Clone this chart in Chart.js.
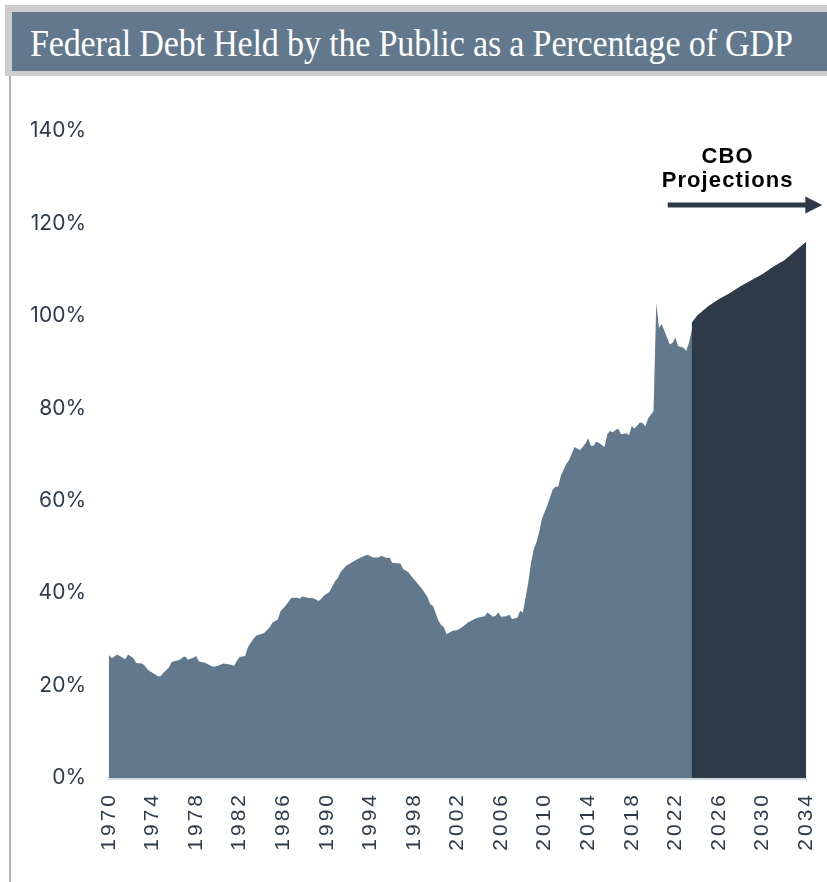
<!DOCTYPE html>
<html>
<head>
<meta charset="utf-8">
<script src="https://cdn.jsdelivr.net/npm/chart.js@4.4.1/dist/chart.umd.min.js"></script>
<style>
  html, body { margin: 0; padding: 0; background: #ffffff; }
  body { width: 827px; height: 882px; position: relative; overflow: hidden; }
  #frame { position: absolute; left: 5px; top: 5px; right: 0; height: 71px; background: #cdcdcd; }
  #banner { position: absolute; left: 12px; top: 12px; right: 0; height: 59px; background: #62788c; }
  #banner h1 {
    margin: 0; position: absolute; left: 18px; top: 11px;
    font-family: "Liberation Serif", "DejaVu Serif", serif; font-weight: normal;
    font-size: 38px; line-height: 40px; letter-spacing: -0.2px; color: #ffffff; white-space: nowrap;
    transform: scaleX(0.897); transform-origin: left top;
  }
  #rule { position: absolute; left: 9px; top: 76px; width: 2px; bottom: 0; background: #b8afa6; }
  #chart { position: absolute; left: 0; top: 0; }
</style>
</head>
<body>
<canvas id="chart" width="827" height="882"></canvas>
<div id="frame"></div>
<div id="banner"><h1>Federal Debt Held by the Public as a Percentage of GDP</h1></div>
<div id="rule"></div>
<script>
// Federal debt held by the public, % of GDP (quarterly history)
const histYears = [
  1970.0, 1970.25, 1970.75, 1971.25, 1971.5, 1971.75, 1972.25, 1972.5, 1973.0, 1973.25,
  1973.5, 1973.75, 1974.0, 1974.5, 1974.75, 1975.0, 1975.5, 1975.75, 1976.5, 1976.75,
  1977.0, 1977.25, 1977.75, 1978.0, 1978.25, 1978.75, 1979.5, 1979.75, 1980.0, 1980.5,
  1981.0, 1981.5, 1981.75, 1982.0, 1982.5, 1982.75, 1983.25, 1983.5, 1984.25, 1984.75,
  1985.0, 1985.5, 1985.75, 1986.25, 1986.75, 1987.25, 1987.5, 1987.75, 1988.25, 1988.75,
  1989.25, 1989.5, 1989.75, 1990.25, 1990.75, 1991.0, 1991.25, 1991.75, 1992.25, 1992.75,
  1993.25, 1993.75, 1994.25, 1994.75, 1995.0, 1995.5, 1995.75, 1996.0, 1996.75, 1997.0,
  1997.5, 1997.75, 1998.25, 1998.75, 1999.25, 1999.5, 1999.75, 2000.25, 2000.5, 2000.75,
  2001.0, 2001.5, 2002.0, 2002.5, 2003.0, 2003.75, 2004.25, 2004.5, 2004.75, 2005.25,
  2005.5, 2005.75, 2006.0, 2006.5, 2006.75, 2007.0, 2007.5, 2007.75, 2008.0, 2008.5,
  2008.75, 2009.0, 2009.25, 2009.5, 2009.75, 2010.25, 2010.75, 2011.0, 2011.25, 2011.5,
  2012.0, 2012.25, 2012.5, 2012.75, 2013.25, 2013.75, 2014.0, 2014.25, 2014.5, 2014.75,
  2015.0, 2015.5, 2015.75, 2016.0, 2016.25, 2016.75, 2017.0, 2017.5, 2017.75, 2018.0,
  2018.25, 2018.75, 2019.0, 2019.25, 2019.5, 2020.0, 2020.25, 2020.5, 2020.75, 2021.0,
  2021.5, 2021.75, 2022.0, 2022.25, 2022.75, 2023.0, 2023.25, 2023.5
];
const histValues = [
  26.6, 25.9, 26.7, 26.0, 25.7, 26.7, 25.9, 24.9, 24.8, 24.4,
  23.6, 23.1, 22.8, 22.0, 22.0, 22.8, 23.9, 25.1, 25.6, 26.1,
  26.3, 25.6, 26.0, 26.4, 25.2, 25.0, 24.1, 24.1, 24.3, 24.8,
  24.6, 24.3, 25.4, 26.2, 26.4, 28.3, 30.1, 30.8, 31.4, 32.6,
  33.6, 34.3, 36.1, 37.4, 39.0, 39.0, 38.8, 39.3, 39.0, 38.9,
  38.3, 38.8, 39.5, 40.3, 42.6, 43.2, 44.5, 45.9, 46.6, 47.3,
  47.9, 48.3, 47.7, 47.7, 48.1, 47.6, 47.7, 46.6, 46.4, 45.2,
  44.5, 43.7, 42.3, 40.9, 39.1, 37.6, 37.2, 34.0, 33.1, 32.6,
  31.1, 31.8, 32.0, 32.8, 33.7, 34.6, 34.9, 35.0, 35.8, 34.9,
  35.1, 35.8, 34.9, 35.0, 35.4, 34.4, 34.7, 36.2, 35.8, 42.3,
  46.5, 49.5, 51.0, 53.2, 56.1, 59.0, 62.5, 63.0, 63.0, 65.5,
  68.0, 68.8, 70.2, 71.6, 70.9, 72.4, 73.5, 71.9, 71.9, 72.8,
  72.5, 71.6, 74.4, 75.1, 74.8, 75.6, 74.4, 74.6, 74.2, 76.1,
  75.6, 76.9, 76.8, 76.1, 77.8, 79.4, 102.8, 97.4, 98.2, 96.7,
  93.8, 94.2, 95.3, 93.5, 93.1, 92.4, 94.2, 96.7
];

// CBO projections
const projYears  = [2023.5, 2024, 2025, 2026, 2027, 2028, 2029, 2030, 2031, 2032, 2033, 2034];
const projValues = [98.5, 100.0, 102.0, 103.6, 104.9, 106.4, 107.7, 109.0, 110.6, 112.0, 114.0, 116.0];

// Axis ranges and tick spacing
const yearMin = 1970, yearMax = 2034, yearStep = 4;
const pctMin = 0, pctMax = 140, pctStep = 20;

// Annotation text and where it sits (in data units)
const noteLines = ['CBO', 'Projections'];
const noteAt = { year: 2026.8, pct: [133.1, 127.9] };
const arrowAt = { fromYear: 2021.3, toYear: 2035.5, pct: 124 };

const HIST_COLOR = '#62788c';
const PROJ_COLOR = '#2e3a48';
const LABEL_COLOR = '#2f3b4a';
const X_LABEL_SPACING = 3;

// Linear scale whose tick labels are drawn with extra letter spacing
class SpacedLinearScale extends Chart.LinearScale {
  drawLabels(chartArea) {
    const ctx = this.ctx;
    ctx.save();
    ctx.letterSpacing = X_LABEL_SPACING + 'px';
    super.drawLabels(chartArea);
    ctx.restore();
  }
}
SpacedLinearScale.id = 'spacedLinear';
SpacedLinearScale.defaults = Chart.LinearScale.defaults;
Chart.register(SpacedLinearScale);

const toPoints = (xs, ys) => xs.map((x, i) => ({ x: x, y: ys[i] }));

// The history layer continues beneath the projection so the two fills meet without a seam
const histPoints = toPoints(histYears, histValues).concat(toPoints(projYears, projValues).slice(1));
const projPoints = toPoints(projYears, projValues);

const projectionNote = {
  id: 'projectionNote',
  afterDatasetsDraw(chart) {
    const ctx = chart.ctx;
    const xs = chart.scales.x, ys = chart.scales.y;
    ctx.save();
    ctx.fillStyle = '#000000';
    ctx.font = 'bold 22px "Liberation Sans", Arial, sans-serif';
    ctx.letterSpacing = '1.1px';
    ctx.textAlign = 'center';
    ctx.textBaseline = 'alphabetic';
    const cx = xs.getPixelForValue(noteAt.year);
    noteLines.forEach((t, i) => ctx.fillText(t, cx, ys.getPixelForValue(noteAt.pct[i])));

    const y = ys.getPixelForValue(arrowAt.pct);
    const x0 = xs.getPixelForValue(arrowAt.fromYear);
    const tip = xs.getPixelForValue(arrowAt.toYear);
    const headLen = 17, headHalf = 8.5;
    ctx.strokeStyle = PROJ_COLOR;
    ctx.fillStyle = PROJ_COLOR;
    ctx.lineWidth = 5;
    ctx.beginPath();
    ctx.moveTo(x0, y);
    ctx.lineTo(tip - headLen + 1, y);
    ctx.stroke();
    ctx.beginPath();
    ctx.moveTo(tip, y);
    ctx.lineTo(tip - headLen, y - headHalf);
    ctx.lineTo(tip - headLen, y + headHalf);
    ctx.closePath();
    ctx.fill();
    ctx.restore();
  }
};

new Chart(document.getElementById('chart'), {
  type: 'line',
  data: {
    datasets: [
      {
        label: 'CBO Projections',
        data: projPoints,
        fill: 'origin',
        backgroundColor: PROJ_COLOR,
        borderColor: PROJ_COLOR,
        borderWidth: 0,
        pointRadius: 0,
        tension: 0,
        order: 0
      },
      {
        label: 'Historical',
        data: histPoints,
        fill: 'origin',
        backgroundColor: HIST_COLOR,
        borderColor: HIST_COLOR,
        borderWidth: 0,
        pointRadius: 0,
        tension: 0,
        order: 1
      }
    ]
  },
  options: {
    responsive: false,
    animation: false,
    devicePixelRatio: 1,
    layout: { padding: { top: 131, right: 21, bottom: 0, left: 0 } },
    plugins: { legend: { display: false }, tooltip: { enabled: false } },
    scales: {
      x: {
        type: 'spacedLinear',
        min: yearMin, max: yearMax,
        afterFit(scale) {
          scale.height = 104;
          scale.paddingLeft = 0;
          scale.paddingRight = 0;
        },
        grid: { display: false, drawTicks: false },
        border: { display: true, color: '#d3dbe3', width: 3 },
        ticks: {
          stepSize: yearStep,
          autoSkip: false,
          minRotation: 90, maxRotation: 90,
          padding: 14,
          color: LABEL_COLOR,
          font: { family: '"Liberation Sans", Arial, sans-serif', size: 21 },
          callback: v => String(v)
        }
      },
      y: {
        min: pctMin, max: pctMax,
        afterFit(scale) {
          scale.width = 109;
          scale.paddingTop = 0;
          scale.paddingBottom = 0;
        },
        grid: { display: false, drawTicks: false },
        border: { display: false },
        ticks: {
          stepSize: pctStep,
          padding: 23,
          color: LABEL_COLOR,
          font: { family: 'Inter, "Noto Sans", sans-serif', size: 21 },
          callback: v => v + '%'
        }
      }
    }
  },
  plugins: [projectionNote]
});
</script>
</body>
</html>
